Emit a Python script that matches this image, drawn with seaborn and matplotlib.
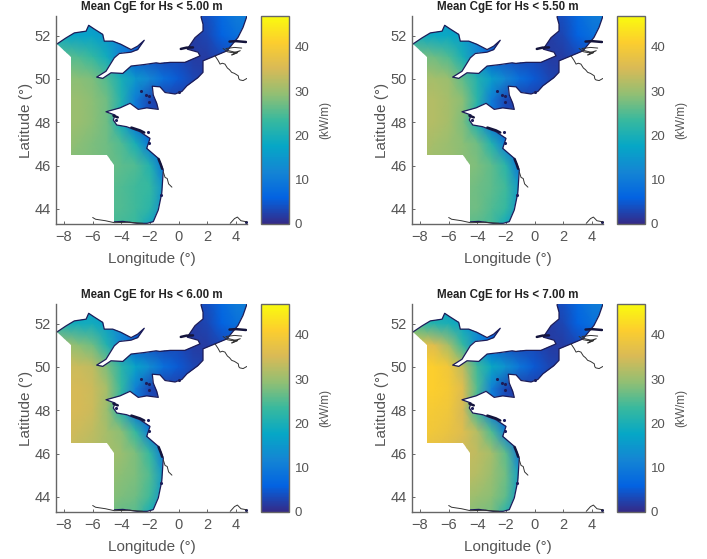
import numpy as np
import matplotlib
matplotlib.use('Agg')
import matplotlib.pyplot as plt
from matplotlib.path import Path
from matplotlib.patches import PathPatch
import seaborn as sns

sns.set_style("white")
plt.rcParams['font.family'] = ['Liberation Sans', 'DejaVu Sans']

# grid nodes of the wave power field
lons = [-9, -8, -7, -6, -5, -4, -3, -2, -1, 0, 1, 2, 3, 4, 5]
lats = [53, 52, 51, 50, 49, 48, 47, 46, 45, 44, 43]

# mean CgE (kW/m), rows follow lats
cge_500 = [
    [16, 15, 14, 14, 13, 11, 8, 6, 5, 5, 4, 4, 7, 10, 11],
    [19, 18, 17, 17, 15, 12, 8, 5, 4, 3, 2, 3, 6, 8, 9],
    [26, 26, 25, 23, 19, 11, 5, 4, 3, 3, 2, 2, 3, 4, 4],
    [29, 29, 29, 28, 25, 20, 15, 12, 8, 5, 3, 2, 2, 2, 2],
    [30, 30, 30, 29, 27, 21, 10, 3, 2, 2, 2, 2, 2, 2, 2],
    [30, 30, 30, 29, 27, 19, 8, 4, 2, 2, 2, 2, 2, 2, 2],
    [30, 30, 29, 28, 27, 25, 20, 9, 5, 3, 2, 2, 2, 2, 2],
    [30, 29, 28, 28, 27, 26, 25, 21, 8, 3, 2, 2, 2, 2, 2],
    [28, 28, 27, 27, 26, 25, 24, 23, 14, 3, 2, 2, 2, 2, 2],
    [27, 27, 26, 26, 25, 25, 24, 22, 13, 3, 2, 2, 2, 2, 2],
    [26, 26, 25, 25, 24, 24, 23, 16, 9, 3, 2, 2, 2, 2, 2],
]
cge_550 = [
    [16, 15, 15, 14, 13, 11, 8, 6, 5, 5, 4, 4, 7, 10, 11],
    [20, 19, 18, 18, 16, 12, 8, 5, 4, 3, 2, 3, 6, 8, 9],
    [28, 28, 27, 25, 20, 12, 5, 4, 3, 3, 2, 2, 3, 4, 4],
    [31, 31, 31, 30, 26, 21, 16, 12, 8, 5, 3, 2, 2, 2, 2],
    [32, 32, 32, 31, 29, 22, 10, 3, 2, 2, 2, 2, 2, 2, 2],
    [32, 32, 32, 31, 28, 20, 8, 4, 2, 2, 2, 2, 2, 2, 2],
    [32, 32, 31, 30, 29, 27, 21, 10, 5, 3, 2, 2, 2, 2, 2],
    [32, 31, 30, 30, 29, 28, 26, 22, 8, 3, 2, 2, 2, 2, 2],
    [30, 30, 29, 29, 28, 27, 26, 24, 15, 3, 2, 2, 2, 2, 2],
    [29, 29, 28, 28, 27, 27, 25, 23, 14, 3, 2, 2, 2, 2, 2],
    [28, 28, 27, 27, 26, 25, 24, 17, 9, 3, 2, 2, 2, 2, 2],
]
cge_600 = [
    [17, 16, 15, 15, 14, 11, 8, 6, 5, 5, 4, 4, 7, 10, 11],
    [21, 20, 19, 19, 16, 12, 8, 5, 4, 3, 2, 3, 6, 8, 9],
    [31, 31, 29, 27, 21, 12, 5, 4, 3, 3, 2, 2, 3, 4, 4],
    [34, 34, 34, 33, 28, 22, 17, 13, 8, 5, 3, 2, 2, 2, 2],
    [35, 35, 35, 34, 31, 23, 11, 3, 2, 2, 2, 2, 2, 2, 2],
    [35, 35, 35, 34, 30, 21, 8, 4, 2, 2, 2, 2, 2, 2, 2],
    [35, 35, 34, 33, 31, 29, 23, 10, 5, 3, 2, 2, 2, 2, 2],
    [35, 34, 33, 32, 31, 30, 28, 23, 9, 3, 2, 2, 2, 2, 2],
    [33, 33, 32, 31, 30, 29, 28, 25, 15, 3, 2, 2, 2, 2, 2],
    [31, 31, 30, 30, 29, 28, 27, 24, 14, 3, 2, 2, 2, 2, 2],
    [30, 30, 29, 28, 27, 26, 25, 18, 10, 3, 2, 2, 2, 2, 2],
]
cge_700 = [
    [18, 17, 16, 15, 14, 12, 8, 6, 5, 5, 4, 4, 7, 10, 11],
    [24, 23, 21, 20, 17, 13, 8, 5, 4, 3, 2, 3, 6, 8, 9],
    [38, 38, 36, 31, 23, 13, 6, 4, 3, 3, 2, 2, 3, 4, 4],
    [41, 41, 41, 39, 33, 24, 18, 14, 9, 5, 3, 2, 2, 2, 2],
    [41, 41, 41, 40, 36, 25, 11, 3, 2, 2, 2, 2, 2, 2, 2],
    [40, 40, 40, 39, 35, 23, 9, 4, 2, 2, 2, 2, 2, 2, 2],
    [40, 40, 39, 38, 36, 32, 25, 11, 5, 3, 2, 2, 2, 2, 2],
    [39, 38, 37, 36, 34, 33, 31, 26, 9, 3, 2, 2, 2, 2, 2],
    [36, 36, 35, 34, 33, 32, 30, 27, 16, 3, 2, 2, 2, 2, 2],
    [34, 34, 33, 32, 31, 30, 29, 26, 15, 3, 2, 2, 2, 2, 2],
    [32, 32, 31, 30, 29, 28, 27, 20, 11, 3, 2, 2, 2, 2, 2],
]

hs_limits = ['5.00', '5.50', '6.00', '7.00']
cge_fields = [cge_500, cge_550, cge_600, cge_700]

# coast of the model domain, ireland round to the basque country
coast_lon = [-8.49, -7.86, -7.28, -6.46, -6.28, -5.89, -5.3, -5.19, -4.6, -4.02, -3.32, -2.86, -2.4,
             -2.86, -3.32, -4.14, -4.49, -5.07, -5.72, -5.3, -4.72, -3.9, -3.32, -2.4, -1.57, -1.3,
             -0.6, 0.44, 1.49, 1.35, 0.6, 1.14, 1.7, 1.7, 1.56, 1.6]
coast_lat = [51.61, 51.89, 52.12, 52.2, 52.47, 52.3, 52.05, 51.74, 51.74, 51.59, 51.35, 51.51, 51.78,
             51.35, 51.23, 51.17, 50.97, 50.35, 50.08, 50.02, 50.28, 50.25, 50.59, 50.66, 50.74, 50.71,
             50.76, 50.76, 51.06, 51.23, 51.37, 51.9, 52.21, 52.52, 52.86, 52.9]
coast2_lon = [4.77, 4.49, 4.14, 3.37, 2.54, 1.7, 1.7, 1.35, 0.58, 0.23, -0.25, -0.95, -1.3, -1.84,
              -1.77, -1.53, -1.42, -2.23, -2.82, -3.39, -4.09, -5.07, -4.44, -4.56, -4.32, -3.63,
              -2.7, -2.0, -2.23, -1.42, -1.07, -1.18, -1.42, -1.77, -2.2, -2.9, -3.4, -3.9, -4.49]
coast2_lat = [52.9, 52.37, 51.91, 51.29, 51.06, 50.83, 50.3, 50.06, 49.68, 49.42, 49.3, 49.37, 49.63,
              49.66, 49.25, 48.87, 48.59, 48.66, 48.59, 48.87, 48.66, 48.48, 48.33, 48.1, 47.87, 47.79,
              47.56, 47.25, 46.79, 46.33, 45.79, 44.72, 43.95, 43.41, 43.33, 43.33, 43.38, 43.42, 43.4]
# open sea boundary
open_lon = [-4.49, -4.98, -7.51, -7.51]
open_lat = [46.03, 46.49, 46.49, 51.0]

# land coast lines outside the domain
belgium_lon = [2.54, 2.75, 2.89, 3.05, 3.23, 3.4, 3.55, 3.7, 3.9, 4.16, 4.2, 4.28, 4.5, 4.77]
belgium_lat = [51.06, 50.85, 50.68, 50.72, 50.68, 50.5, 50.42, 50.3, 50.25, 50.14, 50.0, 49.95, 49.92, 50.02]
gironde_lon = [-1.07, -0.95, -0.8, -0.7, -0.47]
gironde_lat = [45.7, 45.45, 45.4, 45.15, 45.0]
spain_lon = [-6.0, -5.8, -5.1, -4.49, -3.5, -2.5]
spain_lat = [43.6, 43.52, 43.45, 43.36, 43.38, 43.33]
lion_lon = [3.6, 3.9, 4.1, 4.35, 4.77]
lion_lat = [43.33, 43.55, 43.62, 43.45, 43.4]
rhine_lon = [3.1, 3.4, 3.8, 4.3, 3.7, 4.1, 3.5, 3.3, 3.9, 4.4]
rhine_lat = [51.4, 51.25, 51.2, 51.3, 51.1, 51.2, 51.3, 51.4, 51.45, 51.42]
coast_lines = [(belgium_lon, belgium_lat), (gironde_lon, gironde_lat), (spain_lon, spain_lat),
               (lion_lon, lion_lat), (rhine_lon, rhine_lat)]

# estuaries drawn as short thick dark strokes
thames_lon = [0.15, 0.55, 1.0]
thames_lat = [51.38, 51.44, 51.45]
scheldt_lon = [3.55, 4.0, 4.7]
scheldt_lat = [51.72, 51.74, 51.7]
brest_lon = [-4.55, -4.25]
brest_lat = [48.3, 48.22]
vilaine_lon = [-3.3, -2.7, -2.4]
vilaine_lat = [47.75, 47.62, 47.52]
charente_lon = [-1.4, -1.25, -1.15]
charente_lat = [46.3, 46.05, 45.85]
estuaries = [(thames_lon, thames_lat), (scheldt_lon, scheldt_lat), (brest_lon, brest_lat),
             (vilaine_lon, vilaine_lat), (charente_lon, charente_lat)]

# small islands
isle_lon = [-4.4, -2.15, -2.1, -2.6, -2.3, -2.1, -2.05, 0.0, -1.25, 4.72]
isle_lat = [48.12, 47.55, 47.05, 49.45, 49.25, 49.2, 48.95, 49.4, 44.65, 43.38]

parula = ["#352A87", "#0363E1", "#1485D4", "#06A7C6", "#38B99E", "#92BF73", "#D9BA56", "#FCCE2E", "#F9FB0E"]
cmap = sns.blend_palette(parula, n_colors=256, as_cmap=True)

W, H = 707, 559
text_col = '#555555'

fig = plt.figure(figsize=(W / 100, H / 100), dpi=100)


def px_axes(x0, y0, x1, y1):
    return fig.add_axes([x0 / W, 1 - y1 / H, (x1 - x0) / W, (y1 - y0) / H])


boxes = [(56, 16, 247, 224), (412, 16, 603, 224), (56, 304, 247, 512), (412, 304, 603, 512)]
domain_lon = coast_lon + coast2_lon + open_lon
domain_lat = coast_lat + coast2_lat + open_lat

for box, hs, field in zip(boxes, hs_limits, cge_fields):
    ax = px_axes(*box)
    mesh = ax.pcolormesh(lons, lats, np.array(field, dtype=float), shading='gouraud',
                         cmap=cmap, vmin=0, vmax=47)
    outline = PathPatch(Path(np.column_stack([domain_lon, domain_lat]), closed=False),
                        transform=ax.transData, fc='none', ec='none')
    ax.add_patch(outline)
    mesh.set_clip_path(outline)

    # dark fringe on the coast only, open boundaries stay clean
    sns.lineplot(x=coast_lon, y=coast_lat, sort=False, estimator=None, color='#1c1c58', lw=0.9, ax=ax)
    sns.lineplot(x=coast2_lon, y=coast2_lat, sort=False, estimator=None, color='#1c1c58', lw=0.9, ax=ax)
    for cx, cy in coast_lines:
        sns.lineplot(x=cx, y=cy, sort=False, estimator=None, color='#333333', lw=0.7, ax=ax)
    for cx, cy in estuaries:
        sns.lineplot(x=cx, y=cy, sort=False, estimator=None, color='#14143c', lw=1.8, ax=ax)
    sns.scatterplot(x=isle_lon, y=isle_lat, color='#1c1c58', s=5, linewidth=0, ax=ax)

    ax.set_xlim(-8.56, 4.77)
    ax.set_ylim(43.3, 52.9)
    ax.set_xticks(range(-8, 5, 2))
    ax.set_yticks(range(44, 53, 2))
    ax.tick_params(direction='in', length=2, width=0.7, color='#666666', labelcolor=text_col,
                   labelsize=10.5, pad=4, bottom=True, left=True)
    sns.despine(ax=ax)
    for side in ['left', 'bottom']:
        ax.spines[side].set_color('#666666')
        ax.spines[side].set_linewidth(1.0)
    ax.set_xlabel('Longitude (°)', fontsize=11, color=text_col, labelpad=6)
    ax.set_ylabel('Latitude (°)', fontsize=11, color=text_col, labelpad=1)
    ax.set_title('Mean CgE for Hs < %s m' % hs, fontsize=8.3, fontweight='bold', color='#222222', pad=4)

    cax = px_axes(box[0] + 205, box[1], box[0] + 233, box[3])
    cb = fig.colorbar(mesh, cax=cax)
    cb.set_ticks([0, 10, 20, 30, 40])
    cb.ax.tick_params(direction='in', length=2, width=0.7, color='#666666', labelcolor=text_col,
                      labelsize=9.5, pad=4)
    cb.outline.set_edgecolor('#666666')
    cb.outline.set_linewidth(1.0)
    cb.set_label('(kW/m)', fontsize=8.5, color=text_col, labelpad=7)

fig.savefig('out.png', dpi=100)
